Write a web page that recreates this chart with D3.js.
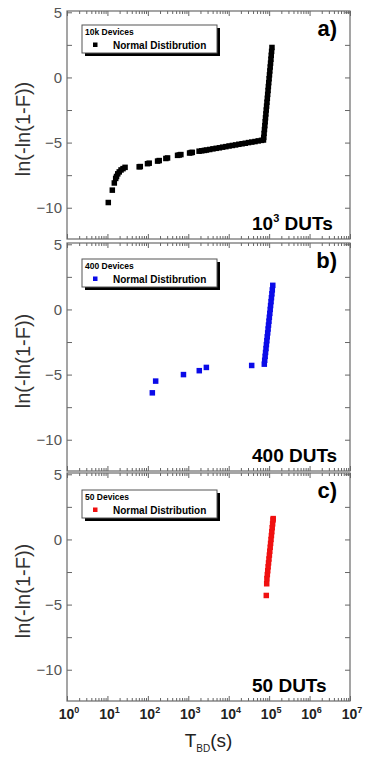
<!DOCTYPE html>
<html>
<head>
<meta charset="utf-8">
<script src="https://cdn.jsdelivr.net/npm/d3@7"></script>
<style>
  html, body { margin: 0; padding: 0; background: #fff; }
  svg { display: block; font-family: 'Liberation Sans', Arial, sans-serif; }
</style>
</head>
<body>
<div id="chart"></div>
<script>
/* ----------  DATA  (T_BD in s, ln(-ln(1-F)))  ---------- */
const devices10k = [
  [10.5, -9.6], [13.2, -8.65], [14.8, -8.1], [16, -7.75], [16.8, -7.6], [18, -7.4],
  [19.6, -7.25], [21.7, -7.1], [24.3, -7.0], [27.3, -6.9],
  [61, -6.86], [65, -6.84],
  [98, -6.62], [108, -6.58],
  [174, -6.42], [191, -6.38],
  [279, -6.22], [307, -6.18],
  [543, -5.98], [598, -5.95], [656, -5.92],
  [1077, -5.8], [1173, -5.77], [1256, -5.75],
  [1850, -5.66], [2150, -5.63], [2500, -5.6], [2820, -5.57], [3390, -5.53], [4070, -5.48],
  [4900, -5.44], [5890, -5.4], [7080, -5.35], [8510, -5.31], [10200, -5.26], [12300, -5.22],
  [14800, -5.18], [17800, -5.13], [21400, -5.09], [25700, -5.05], [30900, -5.0], [37200, -4.96],
  [44700, -4.92], [53700, -4.87], [64600, -4.83], [72400, -4.8],
  [73500, -4.6], [75000, -4.3], [76600, -4.0], [78200, -3.7], [79800, -3.4], [81300, -3.1],
  [83000, -2.8], [84700, -2.5], [86500, -2.2], [88300, -1.9], [90200, -1.6], [92000, -1.3],
  [94000, -1.0], [95700, -0.7], [97700, -0.4], [99800, -0.1], [101900, 0.2], [104000, 0.5],
  [106200, 0.8], [108400, 1.1], [110700, 1.4], [112700, 1.7], [115100, 2.0], [117500, 2.3]
]

const devices400 = [
  [129, -6.4], [156, -5.5], [760, -5.0], [1870, -4.7], [2800, -4.45], [37000, -4.3],
  [75900, -4.2], [77600, -3.9], [79600, -3.6], [81500, -3.3], [83600, -3.0], [85500, -2.7],
  [87700, -2.4], [89700, -2.1], [92000, -1.8], [94200, -1.5], [96400, -1.2], [98900, -0.9],
  [101200, -0.6], [103800, -0.3], [106200, 0], [108600, 0.3], [111400, 0.6], [114000, 0.9],
  [116900, 1.2], [119700, 1.5], [123000, 1.85]
]

const devices50 = [
  [85000, -4.3], [87000, -3.4],
  [88100, -3.0], [90200, -2.7], [92300, -2.4], [94400, -2.1], [96600, -1.8], [98900, -1.5],
  [101400, -1.2], [103700, -0.9], [106200, -0.6], [108600, -0.3], [111200, 0], [113800, 0.3],
  [116400, 0.6], [119100, 0.9], [121900, 1.2], [124700, 1.5], [125900, 1.6]
]

const series = [devices10k, devices400, devices50]
const seriesColors = ['#000000', '#0b0be8', '#f01010']
const panelNames = ['a)', 'b)', 'c)']
const legendTitles = ['10k Devices', '400 Devices', '50 Devices']
const legendLabels = ['Normal Distibrution', 'Normal Distibrution', 'Normal Distribution']
const dutBase = ['10', '400', '50']
const dutSup = ['3', '', '']
const xExponents = [0, 1, 2, 3, 4, 5, 6, 7]
const yLabelTicks = [-10, -5, 0, 5]
const yAllTicks = [-10, -7.5, -5, -2.5, 0, 2.5, 5]

/* ----------  LAYOUT  ---------- */
const W = 366
const H = 757
const panelTops = [11, 243, 473]
const panelH = 228
const legendOffsets = [14, 16, 17]
const MARK = 5.5

const svg = d3.select('#chart').append('svg')
  .attr('width', W)
  .attr('height', H)

const x = d3.scaleLog().domain([1, 1e7]).range([67, 350])
const [x0, x1] = x.range()
const majorX = xExponents.map(e => Math.pow(10, e))
const minorX = x.ticks().filter(t => !majorX.some(m => Math.abs(m - t) < 1e-9 * m))

function styleTicks (sel) {
  sel.select('.domain').remove()
  sel.selectAll('.tick line').attr('stroke', '#666').attr('stroke-width', 1)
}

/* ----------  ONE PANEL  ---------- */
function drawPanel (i) {
  const top = panelTops[i]
  const y = d3.scaleLinear().domain([-12.4, 5.1]).range([top + panelH, top])
  const g = svg.append('g')

  // x ticks, bottom + top, pointing inward
  g.append('g').attr('transform', `translate(0,${top + panelH})`)
    .call(d3.axisTop(x).tickValues(minorX).tickSize(3).tickFormat(''))
    .call(styleTicks)
  g.append('g').attr('transform', `translate(0,${top + panelH})`)
    .call(d3.axisTop(x).tickValues(majorX).tickSize(5).tickFormat(''))
    .call(styleTicks)
  g.append('g').attr('transform', `translate(0,${top})`)
    .call(d3.axisBottom(x).tickValues(minorX).tickSize(3).tickFormat(''))
    .call(styleTicks)
  g.append('g').attr('transform', `translate(0,${top})`)
    .call(d3.axisBottom(x).tickValues(majorX).tickSize(5).tickFormat(''))
    .call(styleTicks)

  // y ticks, both sides
  g.append('g').attr('transform', `translate(${x0},0)`)
    .call(d3.axisRight(y).tickValues(yAllTicks).tickSize(5).tickFormat(''))
    .call(styleTicks)
  g.append('g').attr('transform', `translate(${x1},0)`)
    .call(d3.axisLeft(y).tickValues(yAllTicks).tickSize(5).tickFormat(''))
    .call(styleTicks)

  // y tick labels
  g.append('g').attr('transform', `translate(${x0},0)`)
    .call(d3.axisLeft(y).tickValues(yLabelTicks).tickSize(0).tickPadding(5))
    .call(s => s.select('.domain').remove())
    .selectAll('text')
    .style('font-family', "'Liberation Sans', Arial, sans-serif")
    .style('font-size', '15px')
    .attr('fill', '#555')

  // frame
  g.append('rect')
    .attr('x', x0).attr('y', top)
    .attr('width', x1 - x0).attr('height', panelH)
    .attr('fill', 'none')
    .attr('stroke', '#6a6a6a')
    .attr('stroke-width', 1.2)

  // y title
  g.append('text')
    .attr('transform', `translate(30,${top + 118}) rotate(-90)`)
    .attr('text-anchor', 'middle')
    .style('font-size', '20px')
    .attr('fill', '#333')
    .text('ln(-ln(1-F))')

  // data markers
  g.selectAll('rect.pt')
    .data(series[i])
    .join('rect')
    .attr('class', 'pt')
    .attr('x', d => x(d[0]) - MARK / 2)
    .attr('y', d => y(d[1]) - MARK / 2)
    .attr('width', MARK)
    .attr('height', MARK)
    .attr('fill', seriesColors[i])

  // legend box with shadow
  const bx = 82
  const by = top + legendOffsets[i]
  g.append('rect').attr('x', bx + 3).attr('y', by + 3)
    .attr('width', 135).attr('height', 28).attr('fill', '#000')
  g.append('rect').attr('x', bx).attr('y', by)
    .attr('width', 135).attr('height', 28)
    .attr('fill', '#fff').attr('stroke', '#555').attr('stroke-width', 1)
  g.append('text')
    .attr('x', bx + 3).attr('y', by + 10)
    .style('font-size', '8.5px').style('font-weight', 700)
    .text(legendTitles[i])
  g.append('rect')
    .attr('x', bx + 11).attr('y', by + 17.5)
    .attr('width', 4.5).attr('height', 4.5)
    .attr('fill', seriesColors[i])
  g.append('text')
    .attr('x', bx + 31).attr('y', by + 24)
    .style('font-size', '10px').style('font-weight', 700)
    .text(legendLabels[i])

  // panel letter
  g.append('text')
    .attr('x', 337).attr('y', top + 25)
    .attr('text-anchor', 'end')
    .style('font-size', '22px').style('font-weight', 700)
    .text(panelNames[i])

  // DUT count
  const dut = g.append('text')
    .attr('x', 252).attr('y', top + 219)
    .style('font-size', '19px').style('font-weight', 700)
  dut.append('tspan').text(dutBase[i])
  if (dutSup[i]) {
    dut.append('tspan').attr('dy', -8).style('font-size', '11px').text(dutSup[i])
    dut.append('tspan').attr('dy', 8).text(' DUTs')
  } else {
    dut.append('tspan').text(' DUTs')
  }
}

panelTops.forEach((t, i) => drawPanel(i))

/* ----------  X TICK LABELS + TITLE  ---------- */
const last = panelTops[2] + panelH
const xl = svg.append('g')
  .selectAll('text')
  .data(xExponents)
  .join('text')
  .attr('x', e => x(Math.pow(10, e)) + 2)
  .attr('y', last + 18)
  .attr('text-anchor', 'middle')
  .style('font-size', '14px')
  .style('font-weight', 700)
  .attr('fill', '#222')
xl.append('tspan').text('10')
xl.append('tspan').attr('dy', -6).style('font-size', '9px').text(e => e)

const xt = svg.append('text')
  .attr('x', (x0 + x1) / 2)
  .attr('y', last + 46)
  .attr('text-anchor', 'middle')
  .style('font-size', '19px')
  .attr('fill', '#222')
xt.append('tspan').text('T')
xt.append('tspan').attr('dy', 5).style('font-size', '10px').text('BD')
xt.append('tspan').attr('dy', -5).text('(s)')
</script>
</body>
</html>
